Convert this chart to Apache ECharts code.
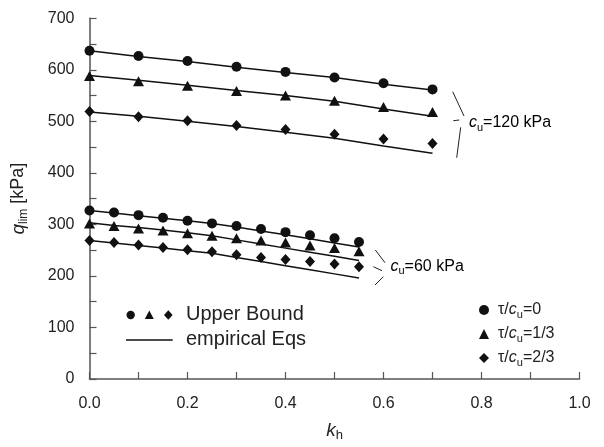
<!DOCTYPE html>
<html>
<head>
<meta charset="utf-8">
<script src="https://cdn.jsdelivr.net/npm/echarts@6/dist/echarts.min.js"></script>
<style>
  html, body { margin: 0; padding: 0; background: #fff; }
  #chart { width: 604px; height: 447px; }
</style>
</head>
<body>
<div id="chart"></div>
<script>
// kh values
var kUpper = [0, 0.1, 0.2, 0.3, 0.4, 0.5, 0.6, 0.7];
var kLower = [0, 0.05, 0.1, 0.15, 0.2, 0.25, 0.3, 0.35, 0.4, 0.45, 0.5, 0.55];

// cu = 120 kPa, upper bound points
var ubUpperT0  = [637, 627, 617, 606, 596, 585, 574, 562];
var ubUpperT13 = [588, 578, 569, 559, 550, 540, 528, 518];
var ubUpperT23 = [519, 509, 501, 492, 484, 475, 466, 457];
// cu = 120 kPa, empirical eqs
var eqUpperT0  = [637, 626, 616, 605, 595, 585, 572, 561];
var eqUpperT13 = [589, 580, 570, 560, 550, 539, 524, 510];
var eqUpperT23 = [518, 510, 500, 490, 479, 467, 452, 438];

// cu = 60 kPa, upper bound points
var ubLowerT0  = [327, 323, 318, 313, 307, 302, 297, 291, 285, 279, 273, 266];
var ubLowerT13 = [302, 297, 292, 288, 283, 278, 273, 269, 265, 259, 254, 248];
var ubLowerT23 = [269, 265, 260, 255, 251, 247, 241, 236, 232, 228, 223, 218];
// cu = 60 kPa, empirical eqs
var eqLowerT0  = [327, 322, 317, 312, 307, 302, 295, 287, 280, 272, 264, 256];
var eqLowerT13 = [303, 298, 294, 289, 284, 278, 270, 262, 254, 246, 238, 230];
var eqLowerT23 = [269, 264, 259, 254, 249, 244, 236, 228, 220, 212, 204, 196];

var seriesNames = ['t0', 't13', 't23'];
var legendText = { t0: '=0', t13: '=1/3', t23: '=2/3' };

var FONT = '"Liberation Sans", Arial, sans-serif';
var TXT = '#222';
var AX = '#555';
var MK = '#111';

function pairs(xs, ys) {
    return xs.map(function (x, i) { return [x, ys[i]]; });
}

function pointSeries(name, symbol, size, xs, ys) {
    return {
        name: name,
        type: 'scatter',
        symbol: symbol,
        symbolSize: size,
        itemStyle: { color: MK, opacity: 1 },
        data: pairs(xs, ys),
        z: 3
    };
}

function eqSeries(xs, ys) {
    return {
        type: 'line',
        showSymbol: false,
        symbol: 'none',
        lineStyle: { color: MK, width: 1.5 },
        data: pairs(xs, ys),
        silent: true,
        z: 2
    };
}

var richCu = {
    i: { fontFamily: FONT, fontSize: 16, fontStyle: 'italic', color: TXT },
    s: { fontFamily: FONT, fontSize: 11, color: TXT, padding: [9, 0, 0, 0] },
    n: { fontFamily: FONT, fontSize: 16, color: TXT }
};

var myChart = echarts.init(document.getElementById('chart'));
var option = {
    backgroundColor: '#fff',
    animation: false,
    grid: { left: 89.5, right: 24.5, top: 18.3, bottom: 64 },
    legend: {
        data: seriesNames,
        orient: 'vertical',
        left: 474,
        top: 297,
        itemWidth: 10,
        itemHeight: 10,
        itemGap: 6,
        selectedMode: false,
        itemStyle: { opacity: 1 },
        formatter: function (name) {
            return '{n|\u03c4/}{i|c}{s|u}{n|' + legendText[name] + '}';
        },
        textStyle: { padding: [0, 0, 0, 4], rich: richCu }
    },
    xAxis: {
        type: 'value',
        min: 0, max: 1, interval: 0.1,
        name: '{i|k}{s|h}',
        nameLocation: 'middle',
        nameGap: 40,
        nameTextStyle: {
            rich: {
                i: { fontFamily: FONT, fontSize: 19, fontStyle: 'italic', color: TXT },
                s: { fontFamily: FONT, fontSize: 13, color: TXT, padding: [10, 0, 0, 0] }
            }
        },
        splitLine: { show: false },
        axisLine: { lineStyle: { color: AX, width: 1.5 } },
        axisTick: { inside: true, length: 7, lineStyle: { color: AX, width: 1.2 } },
        axisLabel: {
            margin: 17,
            fontFamily: FONT, fontSize: 16, color: TXT,
            formatter: function (v) {
                return Math.round(v * 10) % 2 === 0 ? v.toFixed(1) : '';
            }
        }
    },
    yAxis: {
        type: 'value',
        min: 0, max: 700, interval: 50,
        name: '{i|q}{s|lim}{n| [kPa]}',
        nameLocation: 'middle',
        nameGap: 60,
        nameRotate: 90,
        nameTextStyle: {
            rich: {
                i: { fontFamily: FONT, fontSize: 19, fontStyle: 'italic', color: TXT },
                s: { fontFamily: FONT, fontSize: 12, color: TXT, padding: [10, 0, 0, 0] },
                n: { fontFamily: FONT, fontSize: 18, color: TXT }
            }
        },
        splitLine: { show: false },
        axisLine: { show: true, lineStyle: { color: AX, width: 1.5 } },
        axisTick: { inside: true, length: 7, lineStyle: { color: AX, width: 1.2 } },
        axisLabel: {
            margin: 15,
            fontFamily: FONT, fontSize: 16, color: TXT,
            formatter: function (v) { return v % 100 === 0 ? v : ''; }
        }
    },
    series: [
        eqSeries(kUpper, eqUpperT0),
        eqSeries(kUpper, eqUpperT13),
        eqSeries(kUpper, eqUpperT23),
        eqSeries(kLower, eqLowerT0),
        eqSeries(kLower, eqLowerT13),
        eqSeries(kLower, eqLowerT23),
        pointSeries('t0', 'circle', 10, kUpper, ubUpperT0),
        pointSeries('t13', 'triangle', [11, 10], kUpper, ubUpperT13),
        pointSeries('t23', 'diamond', [10, 11], kUpper, ubUpperT23),
        pointSeries('t0', 'circle', 10, kLower, ubLowerT0),
        pointSeries('t13', 'triangle', [11, 10], kLower, ubLowerT13),
        pointSeries('t23', 'diamond', [10, 11], kLower, ubLowerT23)
    ],
    graphic: [
        // cu = 120 kPa bracket
        { type: 'line', shape: { x1: 452.7, y1: 91.7, x2: 464, y2: 116 }, style: { stroke: TXT, lineWidth: 1 } },
        { type: 'line', shape: { x1: 453.3, y1: 120.7, x2: 459.3, y2: 120 }, style: { stroke: TXT, lineWidth: 1 } },
        { type: 'line', shape: { x1: 460.7, y1: 127.3, x2: 456.7, y2: 157.7 }, style: { stroke: TXT, lineWidth: 1 } },
        { type: 'text', x: 469, y: 123, style: { text: '{i|c}{s|u}{n|=120 kPa}', rich: richCu, verticalAlign: 'middle' } },
        // cu = 60 kPa bracket
        { type: 'line', shape: { x1: 375.3, y1: 250, x2: 385, y2: 262.7 }, style: { stroke: TXT, lineWidth: 1 } },
        { type: 'line', shape: { x1: 373.3, y1: 266.7, x2: 382, y2: 270.7 }, style: { stroke: TXT, lineWidth: 1 } },
        { type: 'line', shape: { x1: 375, y1: 285, x2: 383.3, y2: 276.7 }, style: { stroke: TXT, lineWidth: 1 } },
        { type: 'text', x: 390.5, y: 266.7, style: { text: '{i|c}{s|u}{n|=60 kPa}', rich: richCu, verticalAlign: 'middle' } },
        // left legend
        { type: 'circle', shape: { cx: 130.7, cy: 315, r: 4.2 }, style: { fill: MK } },
        { type: 'polygon', shape: { points: [[149.3, 310.5], [153.8, 319], [144.8, 319]] }, style: { fill: MK } },
        { type: 'polygon', shape: { points: [[168.3, 310.3], [172.6, 315], [168.3, 319.7], [164, 315]] }, style: { fill: MK } },
        { type: 'text', x: 186, y: 314, style: { text: 'Upper Bound', font: '20px ' + FONT, fill: TXT, verticalAlign: 'middle' } },
        { type: 'line', shape: { x1: 126, y1: 340, x2: 172.7, y2: 340 }, style: { stroke: MK, lineWidth: 1.5 } },
        { type: 'text', x: 186, y: 339, style: { text: 'empirical Eqs', font: '20px ' + FONT, fill: TXT, verticalAlign: 'middle' } }
    ]
};
myChart.setOption(option);
</script>
</body>
</html>
